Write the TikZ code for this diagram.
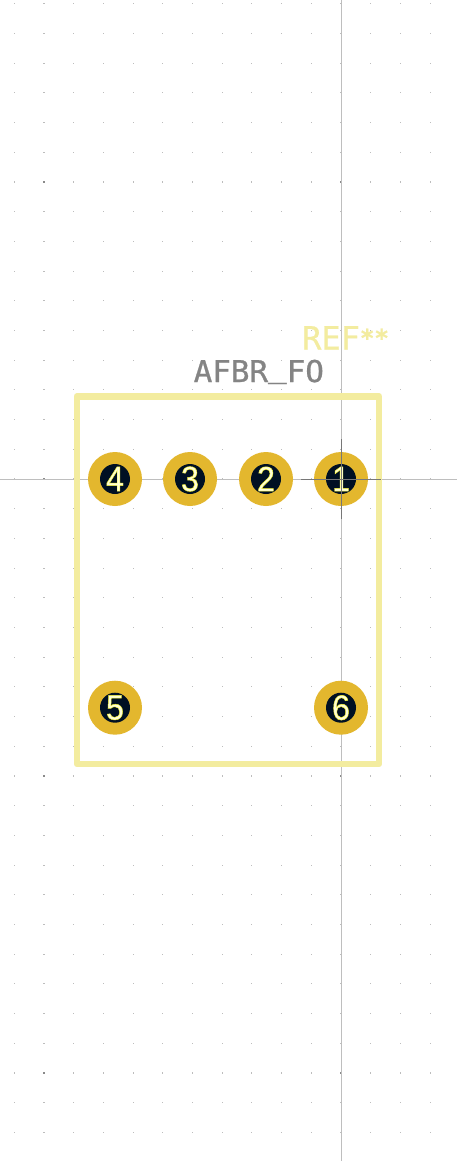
\documentclass[tikz,border=0pt]{standalone}
\usepackage{fontspec}
\setmainfont{Liberation Sans}
\setmonofont{DejaVu Sans Mono}
\definecolor{silk}{HTML}{F3EC9F}
\definecolor{padc}{HTML}{E3B72E}
\definecolor{holec}{HTML}{001023}
\definecolor{gridc}{HTML}{BDBDBD}
\definecolor{gridb}{HTML}{8A8A8A}
\definecolor{axisc}{HTML}{BEBEBE}
\definecolor{crossc}{HTML}{777777}
\definecolor{fabc}{HTML}{848484}
\definecolor{numfill}{HTML}{FFFFD8}
\newcommand{\strk}[3]{\special{pdf:code q 2 Tr #1 w #2 RG}#3\special{pdf:code Q}}
\tikzset{
  padnode/.style={circle,fill=padc,minimum size=54pt,inner sep=0pt,outer sep=0pt},
  holenode/.style={circle,fill=holec,minimum size=30pt,inner sep=0pt,outer sep=0pt},
  numnode/.style={text=numfill,inner sep=0pt,font=\fontsize{35}{35}\selectfont,xscale=.92},
  silkline/.style={draw=silk,line width=6.5pt,line join=round},
}
\begin{document}
\begin{tikzpicture}[x=1pt,y=-1pt]
\useasboundingbox (0,0) rectangle (457,1161);
\fill[white] (0,0) rectangle (457,1161);
% grid
\foreach \i in {-11,...,3}{
  \foreach \j in {-16,...,23}{
    \pgfmathsetmacro{\px}{341+29.7*\i}
    \pgfmathsetmacro{\py}{479+29.7*\j}
    \pgfmathtruncatemacro{\bi}{mod(\i+110,10)==0}
    \pgfmathtruncatemacro{\bj}{mod(\j+160,10)==0}
    \ifnum\bi=1
      \ifnum\bj=1
        \fill[gridb] (\px-1,\py-1) rectangle (\px+1,\py+1);
      \else
        \fill[gridc] (\px-1,\py-.5) rectangle (\px+1,\py+.5);
      \fi
    \else
      \ifnum\bj=1
        \fill[gridc] (\px-.5,\py-1) rectangle (\px+.5,\py+1);
      \else
        \fill[gridc] (\px-.5,\py-.5) rectangle (\px+.5,\py+.5);
      \fi
    \fi
  }
}
% axes
\coordinate (axT) at (341,0);
\coordinate (axB) at (341,1161);
\coordinate (axL) at (0,479);
\coordinate (axR) at (457,479);
\draw[axisc,line width=1pt] (axT) -- (axB);
\draw[axisc,line width=1pt] (axL) -- (axR);
% silk outline
\draw[silkline] (77,396.3) rectangle (379,764);
% texts
\node[text=silk,inner sep=0pt,anchor=base west,font=\ttfamily\fontsize{32}{32}\selectfont] (ref) at (302,349.5) {\strk{0.2}{0.953 0.925 0.624}{REF\fontsize{24}{24}\selectfont\bfseries\raisebox{3pt}{**}}};
\node[text=fabc,inner sep=0pt,anchor=base west,font=\ttfamily\fontsize{30}{30}\selectfont,xscale=1.03] (val) at (193.5,382) {\strk{0.25}{0.518 0.518 0.518}{AFBR\raisebox{5pt}{\_}FO}};
% pads
\node[padnode] (p1) at (341,479) {};
\node[padnode] (p2) at (266,479) {};
\node[padnode] (p3) at (190,479) {};
\node[padnode] (p4) at (115,479) {};
\node[padnode] (p5) at (115,707.7) {};
\node[padnode] (p6) at (341,707.7) {};
\foreach \n in {1,...,6}{\node[holenode] (h\n) at (p\n) {};}
\foreach \n in {1,...,6}{\node[numnode] at (p\n) {\strk{0.5}{0.96 0.95 0.2}{\n}};}
% anchor cross
\coordinate (crL) at (301,479);
\coordinate (crR) at (381,479);
\coordinate (crT) at (341,439);
\coordinate (crB) at (341,519);
\draw[crossc,line width=1pt] (crL) -- (crR);
\draw[crossc,line width=1pt] (crT) -- (crB);
\end{tikzpicture}
\end{document}
